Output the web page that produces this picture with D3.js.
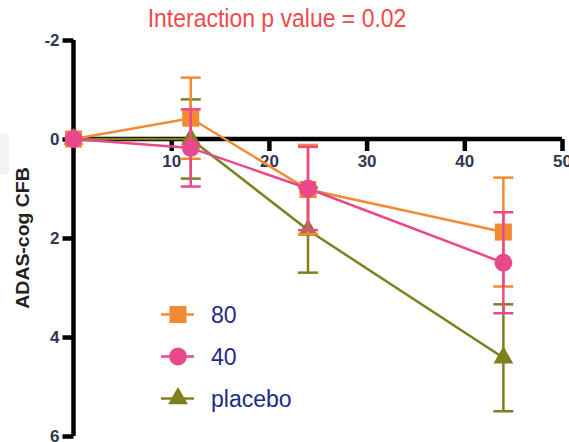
<!DOCTYPE html>
<html>
<head>
<meta charset="utf-8">
<script src="https://cdn.jsdelivr.net/npm/d3@7"></script>
<style>
body { margin: 0; background: #fff; }
text { font-family: "Liberation Sans", Arial, sans-serif; }
</style>
</head>
<body>
<div id="graph"></div>
<script>
//ADAS-cog change from baseline chart
(function(){
"use strict";

var weeks = [0, 12, 24, 44];
var seriesNames = ["80", "40", "placebo"];
var mean80 = [0, -0.42, 1.02, 1.88];
var sem80 = [0, 0.82, 0.9, 1.1];
var mean40 = [0, 0.18, 1.0, 2.5];
var sem40 = [0, 0.78, 0.84, 1.02];
var meanPlacebo = [0, 0, 1.84, 4.42];
var semPlacebo = [0, 0.8, 0.86, 1.08];
var xTicks = [10, 20, 30, 40, 50];
var yTicks = [-2, 0, 2, 4, 6];

var width = 569;
var height = 442;
var colors = {"80": "#f28a33", "40": "#e9488a", "placebo": "#7f7f1e"};
var shapes = {"80": d3.symbolSquare, "40": d3.symbolCircle, "placebo": d3.symbolTriangle};
var sizes = {"80": 290, "40": 250, "placebo": 170};

var series = [
	{name: "placebo", mean: meanPlacebo, sem: semPlacebo},
	{name: "80", mean: mean80, sem: sem80},
	{name: "40", mean: mean40, sem: sem40}
];

var x = d3.scaleLinear()
	.domain([0, 50])
	.range([73.5, 562]);
var y = d3.scaleLinear()
	.domain([-2, 6])
	.range([40, 436]);

var svg = d3.select("#graph")
	.append("svg")
		.attr("width", width)
		.attr("height", height);

//faint panel at left edge
svg.append("rect")
	.attr("x", -6).attr("y", 133)
	.attr("width", 15).attr("height", 42)
	.attr("rx", 5)
	.style("fill", "#f3f3f3");

svg.append("text")
	.attr("transform", "translate(277,27) scale(1,1.1)")
	.attr("text-anchor", "middle")
	.style("font-size", "23px")
	.style("fill", "#f04a4a")
	.text("Interaction p value = 0.02");

svg.append("text")
	.attr("transform", "translate(29,238) rotate(-90) scale(1.08,1)")
	.attr("text-anchor", "middle")
	.style("font-size", "18px")
	.style("font-weight", "bold")
	.style("fill", "#222")
	.text("ADAS-cog CFB");

var yAxis = d3.axisLeft(y)
	.tickValues(yTicks)
	.tickSize(11)
	.tickPadding(3)
	.tickFormat(function(d){ return String(d); });
var xAxis = d3.axisBottom(x)
	.tickValues(xTicks)
	.tickSize(12)
	.tickPadding(4)
	.tickFormat(function(d){ return String(d); });

var gy = svg.append("g")
	.attr("transform", "translate(" + x(0) + ",0)")
	.call(yAxis);
var gx = svg.append("g")
	.attr("transform", "translate(0," + y(0) + ")")
	.call(xAxis);

[gx, gy].forEach(function(g){
	g.select(".domain").attr("stroke-width", 4.5).attr("stroke", "#000");
	g.selectAll(".tick line").attr("stroke-width", 4.5).attr("stroke", "#000");
	g.selectAll(".tick text")
		.style("font-size", "17px")
		.style("font-weight", "bold")
		.style("font-family", "'Liberation Sans', Arial, sans-serif")
		.style("fill", "#2f3852");
});
gy.select(".domain").attr("d", "M0," + y(-2) + "V" + y(6));
gx.select(".domain").attr("d", "M" + x(0) + ",0H" + x(50));

var line = d3.line()
	.x(function(d){ return x(d.w); })
	.y(function(d){ return y(d.m); });

var groups = svg.selectAll(".series")
	.data(series)
	.enter()
	.append("g")
		.attr("class", "series");

groups.each(function(s){
	var g = d3.select(this);
	var c = colors[s.name];
	var pts = weeks.map(function(w, i){ return {w: w, m: s.mean[i], e: s.sem[i]}; });

	g.append("path")
		.datum(pts)
		.attr("d", line)
		.style("fill", "none")
		.style("stroke", c)
		.style("stroke-width", 2.5);

	var bars = g.selectAll(".err")
		.data(pts.filter(function(d){ return d.e > 0; }))
		.enter()
		.append("g");
	bars.append("line")
		.attr("x1", function(d){ return x(d.w); })
		.attr("x2", function(d){ return x(d.w); })
		.attr("y1", function(d){ return y(d.m - d.e); })
		.attr("y2", function(d){ return y(d.m + d.e); });
	bars.append("line")
		.attr("x1", function(d){ return x(d.w) - 10; })
		.attr("x2", function(d){ return x(d.w) + 10; })
		.attr("y1", function(d){ return y(d.m - d.e); })
		.attr("y2", function(d){ return y(d.m - d.e); });
	bars.append("line")
		.attr("x1", function(d){ return x(d.w) - 10; })
		.attr("x2", function(d){ return x(d.w) + 10; })
		.attr("y1", function(d){ return y(d.m + d.e); })
		.attr("y2", function(d){ return y(d.m + d.e); });
	bars.selectAll("line")
		.style("stroke", c)
		.style("stroke-width", 2.5);

	g.selectAll(".pt")
		.data(pts)
		.enter()
		.append("path")
			.attr("transform", function(d){ return "translate(" + x(d.w) + "," + y(d.m) + ")"; })
			.attr("d", d3.symbol().type(shapes[s.name]).size(sizes[s.name]))
			.style("fill", c);
});

//legend
var legend = svg.selectAll(".legend")
	.data(seriesNames)
	.enter()
	.append("g")
		.attr("transform", function(d, i){ return "translate(178," + (314.5 + i * 42) + ")"; });
legend.append("line")
	.attr("x1", -17).attr("x2", 16)
	.style("stroke", function(d){ return colors[d]; })
	.style("stroke-width", 2.5);
legend.append("path")
	.attr("d", function(d){ return d3.symbol().type(shapes[d]).size(sizes[d])(); })
	.style("fill", function(d){ return colors[d]; });
legend.append("text")
	.attr("x", 33)
	.attr("dy", "0.36em")
	.style("font-size", "23px")
	.style("fill", "#1d2b85")
	.text(function(d){ return d; });

})();
</script>
</body>
</html>
